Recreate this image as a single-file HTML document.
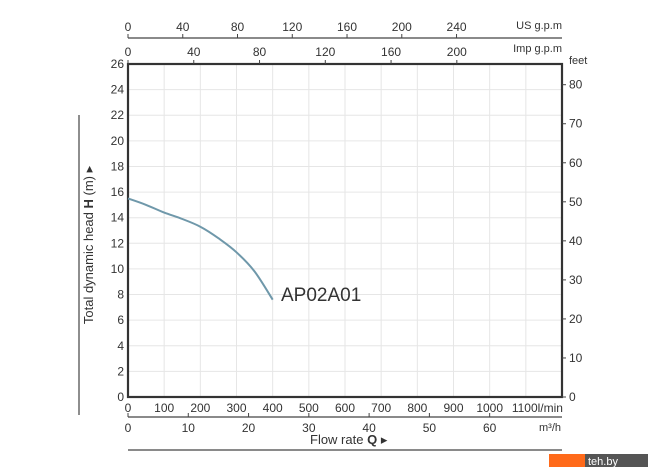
<!DOCTYPE html>
<html><head><meta charset="utf-8"><style>
body{margin:0;background:#fff;}
svg text{font-family:"Liberation Sans",sans-serif;fill:#333;}
</style></head><body>
<svg width="670" height="471" viewBox="0 0 670 471">
<g id="grid"></g>
<g id="axes"></g>
<path id="curve" fill="none" stroke="#6f98aa" stroke-width="2"/>
<text x="281" y="301" font-size="19">AP02A01</text>
<text transform="translate(93,245) rotate(-90)" text-anchor="middle" font-size="13">Total dynamic head <tspan font-weight="bold">H</tspan> (m) ▸</text>
<text x="310" y="444" font-size="13">Flow rate <tspan font-weight="bold">Q</tspan> ▸</text>
<line x1="128" y1="450" x2="562" y2="450" stroke="#444" stroke-width="1.2"/>
<line x1="79" y1="115" x2="79" y2="415" stroke="#444" stroke-width="1.2"/>
<rect x="549" y="454" width="36" height="13" fill="#ff6a1a"/>
<rect x="585" y="454" width="63" height="13" fill="#555"/>
<text x="588" y="465" font-size="11" style="fill:#fff">teh.by</text>
</svg>
<script>
const flowLmin=[0,50,100,150,200,250,300,350,400];
const headM=[15.5,15.0,14.4,13.9,13.3,12.4,11.3,9.8,7.6];
const lminTicks=[0,100,200,300,400,500,600,700,800,900,1000,1100];
const m3hTicks=[0,10,20,30,40,50,60];
const usTicks=[0,40,80,120,160,200,240];
const impTicks=[0,40,80,120,160,200];
const headTicks=[0,2,4,6,8,10,12,14,16,18,20,22,24,26];
const feetTicks=[0,10,20,30,40,50,60,70,80];
const L=128,R=562,T=64,B=397;
const X=q=>L+q*(R-L)/1200;
const Y=h=>B-h*(B-T)/26;
const NS='http://www.w3.org/2000/svg';
const grid=document.getElementById('grid'),axes=document.getElementById('axes');
function mk(p,tag,a){const e=document.createElementNS(NS,tag);for(const k in a)e.setAttribute(k,a[k]);p.appendChild(e);return e;}
function txt(p,x,y,s,anchor,size){const e=mk(p,'text',{x:x,y:y,'text-anchor':anchor||'middle','font-size':size||12});e.textContent=s;return e;}
for(let q=100;q<1200;q+=100){const l=mk(grid,'line',{x1:X(q),x2:X(q),y1:T,y2:B,stroke:'#e6e6e6'});

}
for(let h=2;h<26;h+=2){const l=mk(grid,'line',{x1:L,x2:R,y1:Y(h),y2:Y(h),stroke:'#e6e6e6'});

}
const fr=mk(axes,'rect',{x:L,y:T,width:R-L,height:B-T,fill:'none',stroke:'#333','stroke-width':2.2});


lminTicks.forEach(q=>{const t=txt(axes,X(q),412,q===1100?'1100l/min':String(q),q===1100?'start':'middle');if(q===1100)t.setAttribute('x',X(q)-14);

});
mk(axes,'line',{x1:L,x2:R,y1:417,y2:417,stroke:'#444','stroke-width':1.2});
m3hTicks.forEach(v=>{const x=X(v*1000/60);mk(axes,'line',{x1:x,x2:x,y1:413,y2:417,stroke:'#444'});const t=txt(axes,x,432,String(v));

});
txt(axes,561,431,'m³/h','end',11);
mk(axes,'line',{x1:L,x2:R,y1:38,y2:38,stroke:'#444','stroke-width':1.2});
usTicks.forEach(v=>{const x=X(v*3.785);mk(axes,'line',{x1:x,x2:x,y1:34,y2:38,stroke:'#444'});const t=txt(axes,x,31,String(v));

});
txt(axes,562,29,'US g.p.m','end',11);
impTicks.forEach(v=>{const x=X(v*4.546);mk(axes,'line',{x1:x,x2:x,y1:60,y2:64,stroke:'#444'});const t=txt(axes,x,56,String(v));

});
txt(axes,562,52,'Imp g.p.m','end',11);
headTicks.forEach(h=>{const t=txt(axes,124,Y(h)+4,String(h),'end');

});
feetTicks.forEach(f=>{const y=Y(f*0.3048);mk(axes,'line',{x1:R,x2:R+4,y1:y,y2:y,stroke:'#444'});const t=txt(axes,569,y+4,String(f),'start');

});
txt(axes,569,64,'feet','start',11);
const pts=flowLmin.map((q,i)=>[X(q),Y(headM[i])]);
let d='M'+pts[0][0].toFixed(1)+','+pts[0][1].toFixed(1);
for(let i=0;i<pts.length-1;i++){const p0=pts[Math.max(i-1,0)],p1=pts[i],p2=pts[i+1],p3=pts[Math.min(i+2,pts.length-1)];
const c1=[p1[0]+(p2[0]-p0[0])/6,p1[1]+(p2[1]-p0[1])/6],c2=[p2[0]-(p3[0]-p1[0])/6,p2[1]-(p3[1]-p1[1])/6];
d+='C'+c1.map(v=>v.toFixed(1)).join(',')+' '+c2.map(v=>v.toFixed(1)).join(',')+' '+p2.map(v=>v.toFixed(1)).join(',');}
document.getElementById('curve').setAttribute('d',d);
</script>
</body></html>
